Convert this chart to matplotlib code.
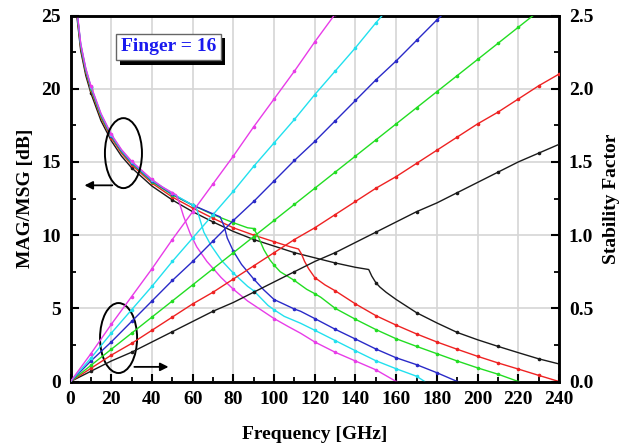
import numpy as np
import matplotlib
matplotlib.use("Agg")
import matplotlib.pyplot as plt
import matplotlib.patheffects as pe
from matplotlib.patches import Ellipse

plt.rcParams['font.family'] = ['Liberation Serif', 'DejaVu Serif']
plt.rcParams['font.weight'] = 'bold'

# MAG/MSG curves (left axis) - frequency [GHz] and gain [dB]
black_f = [3, 5, 7.5, 10, 15, 20, 25, 30, 40, 50, 60, 70, 80, 90, 100, 110, 120, 130, 140, 146.5,
           148, 150, 152, 155, 160, 170, 180, 190, 200, 210, 220, 230, 240]
black_g = [25.1, 22.6, 20.9, 19.7, 17.8, 16.45, 15.4, 14.6, 13.35, 12.4, 11.6, 10.9, 10.25, 9.7, 9.25,
           8.8, 8.45, 8.1, 7.8, 7.65, 7.2, 6.75, 6.45, 6.1, 5.6, 4.7, 4.0, 3.35, 2.85, 2.4, 1.97, 1.55, 1.2]

red_f = [3, 5, 7.5, 10, 15, 20, 25, 30, 40, 50, 60, 70, 80, 90, 100, 108, 112, 113.5, 115, 117, 120,
         125, 130, 140, 150, 160, 170, 180, 190, 200, 210, 220, 230, 240]
red_g = [25.3, 22.8, 21.1, 19.9, 18.0, 16.65, 15.6, 14.8, 13.55, 12.6, 11.85, 11.15, 10.5, 10.0, 9.55,
         9.2, 9.05, 8.7, 8.2, 7.7, 7.1, 6.6, 6.2, 5.3, 4.5, 3.85, 3.25, 2.7, 2.2, 1.72, 1.27, 0.85, 0.42, 0.0]

green_f = [3, 5, 7.5, 10, 15, 20, 25, 30, 40, 50, 60, 70, 80, 87, 90, 91, 92.5, 95, 98, 100, 103, 110,
           116, 120, 123, 130, 140, 150, 160, 170, 180, 190, 200, 210, 220]
green_g = [25.4, 22.9, 21.2, 20.0, 18.1, 16.75, 15.7, 14.9, 13.65, 12.75, 12.05, 11.4, 10.85, 10.5, 10.45,
           10.2, 9.8, 9.0, 8.3, 7.95, 7.5, 6.9, 6.3, 6.0, 5.75, 5.0, 4.25, 3.55, 2.92, 2.4, 1.9, 1.4, 0.93,
           0.5, 0.0]

blue_f = [3, 5, 7.5, 10, 15, 20, 25, 30, 40, 50, 60, 70, 73.5, 75.5, 77, 80, 84, 90, 95, 100, 110, 113,
          120, 130, 140, 150, 160, 170, 180, 190]
blue_g = [25.5, 23.0, 21.3, 20.1, 18.2, 16.8, 15.75, 14.95, 13.7, 12.8, 12.05, 11.45, 11.25, 10.6, 9.8,
          8.9, 8.0, 7.0, 6.25, 5.6, 4.95, 4.8, 4.3, 3.57, 2.9, 2.22, 1.62, 1.15, 0.6, 0.0]

cyan_f = [3, 5, 7.5, 10, 15, 20, 25, 30, 40, 50, 60, 62, 63.5, 65.5, 69, 74, 80, 87, 90, 97, 100, 105,
          113, 120, 130, 140, 150, 160, 170, 174]
cyan_g = [25.5, 23.05, 21.35, 20.15, 18.25, 16.85, 15.8, 15.0, 13.75, 12.85, 12.05, 11.8, 11.1, 10.2,
          9.3, 8.3, 7.4, 6.5, 6.2, 5.2, 4.9, 4.45, 3.98, 3.5, 2.8, 2.1, 1.42, 0.87, 0.36, 0.0]

magenta_f = [3, 5, 7.5, 10, 15, 20, 25, 30, 40, 45, 50, 52, 53.5, 55.5, 58.8, 62, 67, 74, 80, 87, 93.5,
             100, 107, 113, 120, 130, 140, 150, 160]
magenta_g = [25.6, 23.1, 21.4, 20.2, 18.3, 16.9, 15.85, 15.05, 13.8, 13.3, 12.9, 12.75, 12.2, 11.3,
             10.1, 9.2, 8.2, 7.1, 6.3, 5.5, 4.9, 4.3, 3.75, 3.3, 2.7, 2.0, 1.4, 0.8, 0.0]

# stability factor K (right axis), sampled every 10 GHz
k_f = list(range(0, 250, 10))
black_k = [0, 0.07, 0.14, 0.20, 0.27, 0.34, 0.41, 0.48, 0.54, 0.61, 0.68, 0.75, 0.82, 0.88, 0.95,
           1.02, 1.09, 1.16, 1.22, 1.29, 1.36, 1.43, 1.50, 1.56, 1.62]
red_k = [0, 0.09, 0.18, 0.26, 0.35, 0.44, 0.53, 0.61, 0.70, 0.79, 0.88, 0.97, 1.05, 1.14, 1.23, 1.32,
         1.40, 1.49, 1.58, 1.67, 1.76, 1.84, 1.93, 2.02, 2.10]
green_k = [0, 0.11, 0.22, 0.33, 0.44, 0.55, 0.66, 0.77, 0.88, 0.99, 1.10, 1.21, 1.32, 1.43, 1.54, 1.65,
           1.76, 1.87, 1.98, 2.09, 2.20, 2.31, 2.42, 2.53]
blue_k = [0, 0.14, 0.27, 0.41, 0.55, 0.69, 0.82, 0.96, 1.10, 1.23, 1.37, 1.51, 1.64, 1.78, 1.92, 2.06,
          2.19, 2.33, 2.47, 2.60]
cyan_k = [0, 0.16, 0.33, 0.49, 0.65, 0.82, 0.98, 1.14, 1.30, 1.47, 1.63, 1.79, 1.96, 2.12, 2.28, 2.45, 2.61]
magenta_k = [0, 0.19, 0.39, 0.58, 0.77, 0.97, 1.16, 1.35, 1.54, 1.74, 1.93, 2.12, 2.32, 2.51, 2.70]

colors = {'black': '#1a1a1a', 'red': '#ee2222', 'green': '#22dd22',
          'blue': '#2a2ac8', 'cyan': '#22e0ee', 'magenta': '#e83ce8'}
series = [
    ('black', black_f, black_g, black_k, 20),
    ('red', red_f, red_g, red_k, 10),
    ('green', green_f, green_g, green_k, 10),
    ('blue', blue_f, blue_g, blue_k, 10),
    ('cyan', cyan_f, cyan_g, cyan_k, 10),
    ('magenta', magenta_f, magenta_g, magenta_k, 10),
]

fig = plt.figure(figsize=(6.28, 4.47), dpi=100)
ax = fig.add_axes([0.1123, 0.1465, 0.7779, 0.8188])
ax2 = ax.twinx()

for name, f, g, k, step in series:
    c = colors[name]
    f = np.array(f, dtype=float)
    if step == 20:
        mask = (f % 20 == 10)
        kmask = [(x % 20 == 10) for x in k_f[:len(k)]]
    else:
        mask = (f % 10 == 0)
        kmask = [x > 0 for x in k_f[:len(k)]]
    ax.plot(f, g, color=c, lw=1.0, marker='o', ms=1.6, markevery=list(mask), zorder=3)
    ax2.plot(k_f[:len(k)], k, color=c, lw=1.0, marker='o', ms=1.6, markevery=kmask, zorder=3)

ax.set_xlim(0, 240)
ax.set_ylim(0, 25)
ax2.set_ylim(0, 2.5)
ax.set_xticks(range(0, 241, 20))
ax.set_xticks(range(0, 241, 10), minor=True)
ax.set_yticks(range(0, 26, 5))
ax.set_yticks(np.arange(0, 25.1, 2.5), minor=True)
ax2.set_yticks([0, 0.5, 1.0, 1.5, 2.0, 2.5])
ax2.set_yticks(np.arange(0, 2.51, 0.25), minor=True)
ax2.set_yticklabels(['0.0', '0.5', '1.0', '1.5', '2.0', '2.5'])

ax.grid(True, which='major', color='#d6d6d6', lw=1.2)
ax.set_axisbelow(True)

for a in (ax, ax2):
    for s in a.spines.values():
        s.set_linewidth(1.8)
    a.tick_params(which='major', direction='in', length=6, width=1.5, labelsize=14, pad=7)
    a.tick_params(which='minor', direction='in', length=3.5, width=1.3)
ax.tick_params(top=False, which='both')

ax.set_xlabel('Frequency [GHz]', fontsize=14, fontweight='bold', labelpad=13)
ax.set_ylabel('MAG/MSG [dB]', fontsize=14, fontweight='bold', labelpad=5)
ax2.set_ylabel('Stability Factor', fontsize=14, fontweight='bold', labelpad=7)

# label box with shadow
t = ax.text(48, 22.85, 'Finger = 16', color='#1a1aee', fontsize=14, fontweight='bold',
            ha='center', va='center', zorder=6,
            bbox=dict(boxstyle='square,pad=0.25', fc='white', ec='#666666', lw=1))
t.get_bbox_patch().set_path_effects([pe.withSimplePatchShadow(offset=(3, -3), shadow_rgbFace='k', alpha=1)])

# ellipses and arrows
ax.add_patch(Ellipse((26.0, 15.6), 18.2, 4.78, fill=False, ec='k', lw=1.4, zorder=5))
ax.add_patch(Ellipse((23.6, 2.97), 18.2, 4.78, fill=False, ec='k', lw=1.4, zorder=5))
ax.annotate('', xy=(5.5, 13.4), xytext=(21.9, 13.4),
            arrowprops=dict(arrowstyle='-|>', color='k', lw=1.3, mutation_scale=12), zorder=5)
ax.annotate('', xy=(49.5, 1.0), xytext=(30.0, 1.0),
            arrowprops=dict(arrowstyle='-|>', color='k', lw=1.3, mutation_scale=12), zorder=5)

fig.savefig('out.png', dpi=100)
